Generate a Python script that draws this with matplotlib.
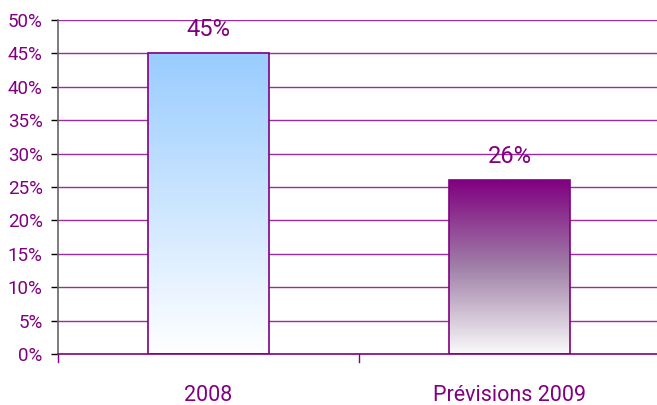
import matplotlib
matplotlib.use("Agg")
import matplotlib.pyplot as plt
import numpy as np
from matplotlib.colors import LinearSegmentedColormap

categories = ["2008", "Prévisions 2009"]
values = [45, 26]
labels = ["45%", "26%"]
yticks = [0, 5, 10, 15, 20, 25, 30, 35, 40, 45, 50]

plt.rcParams['font.family'] = ["Roboto", "DejaVu Sans"]

purple = "#800080"
grid_c = "#9A2AA6"

fig = plt.figure(figsize=(6.57, 4.05), dpi=100)
ax = fig.add_axes([58/657, 1-354/405, 1-58/657, (354-20)/405])

x = np.arange(len(categories))
w = 0.4
bars = ax.bar(x, values, width=w, facecolor="none", edgecolor=purple, linewidth=1.2, zorder=3)

cmaps = [LinearSegmentedColormap.from_list("b", ["#FFFFFF", "#99CCFF"]),
         LinearSegmentedColormap.from_list("p", ["#FAFAFA", "#A080A8", "#800080"])]
grad = np.linspace(0, 1, 256).reshape(-1, 1)
for b, cm in zip(bars, cmaps):
    x0, y0 = b.get_x(), b.get_y()
    ax.imshow(grad, extent=[x0, x0 + b.get_width(), y0, y0 + b.get_height()],
              origin="lower", aspect="auto", cmap=cm, zorder=2)

for xi, v, lab in zip(x, values, labels):
    ax.text(xi, v + 1.9, lab, ha="center", va="bottom", color=purple, fontsize=17)

ax.set_xlim(-0.5, 1.49)
ax.set_ylim(0, 50)
ax.set_yticks(yticks)
ax.set_yticklabels([f"{t}%" for t in yticks], color=purple, fontsize=13.5)
ax.set_xticks(x)
ax.set_xticklabels(categories, color=purple, fontsize=15.5)
ax.tick_params(axis="x", length=0, pad=22)
ax.tick_params(axis="y", length=5, color="black", width=1, pad=6)
for yt in yticks[1:]:
    ax.axhline(yt, color=grid_c, linewidth=1, zorder=1)
for sx in [-0.5, 0.5]:
    ax.plot([sx, sx], [0, -1.2], color=purple, linewidth=1, clip_on=False, zorder=1)

for s in ["top", "right"]:
    ax.spines[s].set_visible(False)
ax.spines["left"].set_color("#666666")
ax.spines["left"].set_linewidth(1.2)
ax.spines["bottom"].set_color(purple)
ax.spines["bottom"].set_linewidth(1.2)

fig.savefig("out.png", dpi=100)
